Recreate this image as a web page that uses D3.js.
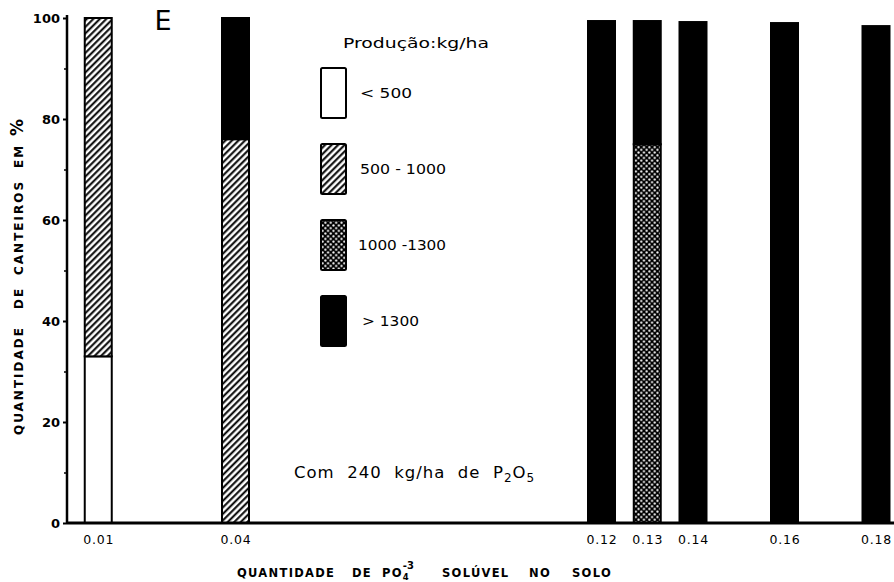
<!DOCTYPE html>
<html><head><meta charset="utf-8">
<script src="https://cdn.jsdelivr.net/npm/d3@7"></script>
<style>
html,body{margin:0;padding:0;background:#fff;}
svg{display:block;}
text{font-family:"DejaVu Sans",sans-serif;fill:#000;white-space:pre;}
</style></head>
<body>
<script>
// ---- data ----
const xValues = [0.01, 0.04, 0.12, 0.13, 0.14, 0.16, 0.18];
const xTickLabels = ["0.01", "0.04", "0.12", "0.13", "0.14", "0.16", "0.18"];
const categories = ["< 500", "500 - 1000", "1000 -1300", "> 1300"];
const seriesLt500 = [33, 0, 0, 0, 0, 0, 0];
const series500to1000 = [67, 76, 0, 0, 0, 0, 0];
const series1000to1300 = [0, 0, 0, 75, 0, 0, 0];
const seriesGt1300 = [0, 24, 99.4, 24.4, 99.2, 99, 98.4];
const yTicks = [0, 20, 40, 60, 80, 100];
const yMinorTicks = [10, 30, 50, 70, 90];

const W = 894, H = 582;
const svg = d3.select("body").append("svg").attr("width", W).attr("height", H);

// patterns
const defs = svg.append("defs");
const hatch = defs.append("pattern").attr("id", "hatch").attr("patternUnits", "userSpaceOnUse")
  .attr("width", 4.6).attr("height", 4.6).attr("patternTransform", "rotate(45)");
hatch.append("rect").attr("width", 4.6).attr("height", 4.6).attr("fill", "#fff");
hatch.append("line").attr("x1", 1.2).attr("x2", 1.2).attr("y1", 0).attr("y2", 4.6)
  .attr("stroke", "#000").attr("stroke-width", 2);
const dots = defs.append("pattern").attr("id", "dots").attr("patternUnits", "userSpaceOnUse")
  .attr("width", 5.4).attr("height", 5.4);
dots.append("rect").attr("width", 5.4).attr("height", 5.4).attr("fill", "#000");
dots.append("circle").attr("cx", 1.35).attr("cy", 1.35).attr("r", 1.1).attr("fill", "#fff");
dots.append("circle").attr("cx", 4.05).attr("cy", 4.05).attr("r", 1.1).attr("fill", "#fff");

const fills = ["#fff", "url(#hatch)", "url(#dots)", "#000"];

// scales
const x = d3.scaleLinear().domain([0, 0.18]).range([52.5, 876]);
const y = d3.scaleLinear().domain([0, 100]).range([523, 18]);
const barW = 27;

// table
const keys = categories;
const table = xValues.map((v, i) => ({
  x: v,
  [keys[0]]: seriesLt500[i],
  [keys[1]]: series500to1000[i],
  [keys[2]]: series1000to1300[i],
  [keys[3]]: seriesGt1300[i]
}));
const stacked = d3.stack().keys(keys)(table);

// bars
stacked.forEach((layer, li) => {
  svg.append("g").selectAll("rect").data(layer.filter(d => d[1] - d[0] > 0)).join("rect")
    .attr("x", d => x(d.data.x) - barW / 2)
    .attr("width", barW)
    .attr("y", d => y(d[1]))
    .attr("height", d => y(d[0]) - y(d[1]))
    .attr("fill", fills[li])
    .attr("stroke", "#000").attr("stroke-width", 2);
});

// y axis
const yAxis = d3.axisLeft(y).tickValues(yTicks).tickSize(4).tickPadding(3).tickFormat(d3.format("d"));
const gy = svg.append("g").attr("transform", "translate(67,0)").call(yAxis);
gy.select(".domain").attr("stroke-width", 2.5).attr("d", "M0,523V15");
gy.selectAll(".tick line").attr("stroke-width", 2);
gy.selectAll(".tick text").attr("font-size", 13).attr("font-weight", "bold")
  .attr("font-family", "DejaVu Sans");
const yMinor = d3.axisLeft(y).tickValues(yMinorTicks).tickSize(3).tickFormat("");
const gym = svg.append("g").attr("transform", "translate(67,0)").call(yMinor);
gym.select(".domain").remove();
gym.selectAll(".tick line").attr("stroke-width", 1.5);

// x axis
const xAxis = d3.axisBottom(x).tickValues(xValues).tickSize(0).tickPadding(12)
  .tickFormat((d, i) => xTickLabels[i]);
const gx = svg.append("g").attr("transform", "translate(0,523)").call(xAxis);
gx.select(".domain").attr("d", "M67,0H894").attr("stroke-width", 3);
gx.selectAll(".tick text").attr("font-size", 12.5).attr("letter-spacing", 0.8)
  .attr("font-family", "DejaVu Sans");

// E label
svg.append("text").attr("x", 163).attr("y", 30).attr("text-anchor", "middle")
  .attr("font-size", 27).text("E");

// legend
svg.append("text").attr("x", 343).attr("y", 48).attr("font-size", 14.5)
  .attr("textLength", 146).attr("lengthAdjust", "spacingAndGlyphs").text("Produção:kg/ha");
const legendY = [68, 144, 220, 296];
const legendLabelW = [52, 86, 88, 57];
const legendLabelX = [360, 360, 358, 362];
categories.forEach((c, i) => {
  svg.append("rect").attr("x", 321).attr("y", legendY[i]).attr("width", 25).attr("height", 50)
    .attr("rx", 1.5).attr("fill", fills[i]).attr("stroke", "#000").attr("stroke-width", 2);
  svg.append("text").attr("x", legendLabelX[i]).attr("y", legendY[i] + 25)
    .attr("dominant-baseline", "central").attr("font-size", 14)
    .attr("textLength", legendLabelW[i]).attr("lengthAdjust", "spacingAndGlyphs").text(c);
});

// annotation
const ann = svg.append("text").attr("x", 294).attr("y", 478).attr("font-size", 16.5)
  .attr("letter-spacing", 1);
ann.append("tspan").text("Com  240  kg/ha  de  P");
ann.append("tspan").attr("font-size", 12).attr("dy", 4).text("2");
ann.append("tspan").attr("dy", -4).text("O");
ann.append("tspan").attr("font-size", 12).attr("dy", 4).text("5");

// y axis title (rotated: tspan x = -screenY of word start)
const yt = svg.append("text").attr("transform", "translate(23,0) rotate(-90)")
  .attr("font-size", 12).attr("font-weight", "bold").attr("letter-spacing", 2);
yt.append("tspan").attr("x", -435).text("QUANTIDADE");
yt.append("tspan").attr("x", -309).text("DE");
yt.append("tspan").attr("x", -275).text("CANTEIROS");
yt.append("tspan").attr("x", -168).text("EM");
yt.append("tspan").attr("x", -136).attr("font-size", 17).attr("letter-spacing", 0).text("%");

// x axis title
const xt = svg.append("text").attr("y", 577).attr("font-size", 11.5)
  .attr("font-weight", "bold").attr("letter-spacing", 1.3);
xt.append("tspan").attr("x", 237).text("QUANTIDADE");
xt.append("tspan").attr("x", 352).text("DE");
xt.append("tspan").attr("x", 382).text("PO");
xt.append("tspan").attr("font-size", 8.5).attr("dy", 3).attr("letter-spacing", 0).text("4");
xt.append("tspan").attr("font-size", 10).attr("dx", -6).attr("dy", -11).attr("letter-spacing", 0).text("-3");
xt.append("tspan").attr("x", 442).attr("dy", 8).text("SOLÚVEL");
xt.append("tspan").attr("x", 529).text("NO");
xt.append("tspan").attr("x", 572).text("SOLO");
</script>
</body></html>
